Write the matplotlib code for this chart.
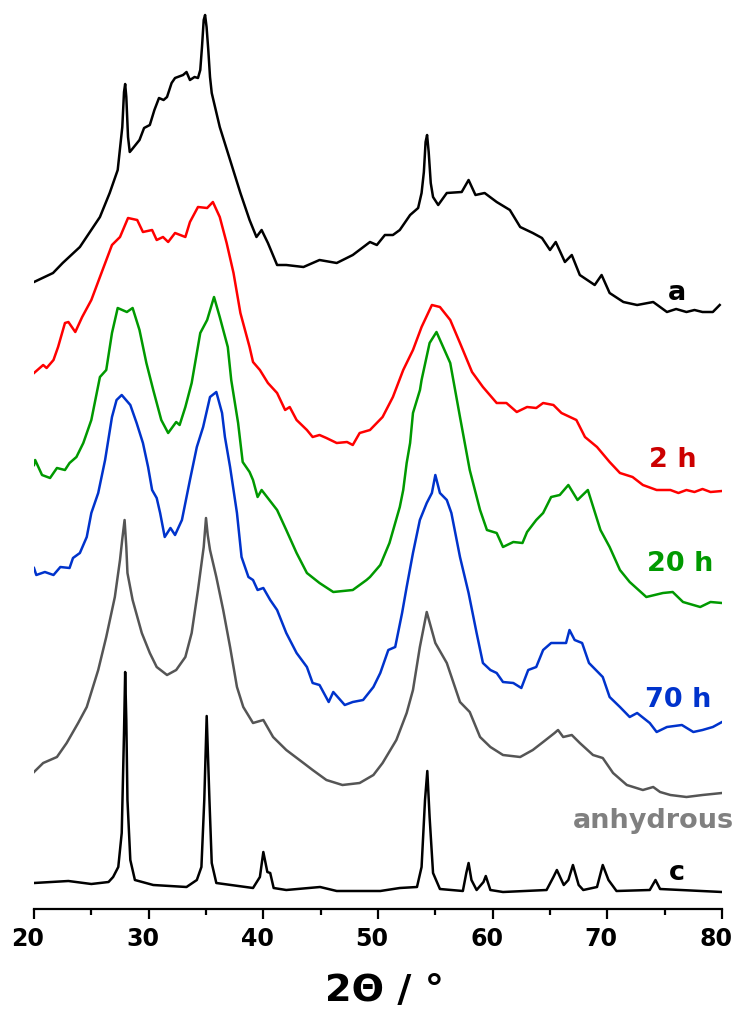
"""
Difractogramas de rayos X apilados (muestra a, 2 h, 20 h, 70 h, anhidra, c).
Cada patrón se dibuja con su propio desplazamiento vertical.
"""

import matplotlib

matplotlib.use("Agg")
import matplotlib.pyplot as plt
from matplotlib.ticker import MultipleLocator
from matplotlib.transforms import ScaledTranslation


# --- patrón a ---
a_x = [20.0, 21.66, 22.5, 24.0, 25.75, 26.6, 27.3, 27.7, 27.85, 27.95, 28.05, 28.2,
       28.35, 28.5, 29.2, 29.6, 30.1, 30.5, 30.9, 31.3, 31.6, 32.0, 32.3, 33.0,
       33.3, 33.6, 34.0, 34.3, 34.5, 34.65, 34.8,
       34.92, 35.05, 35.2, 35.35, 35.5, 36.2, 37.1, 38.0, 38.8, 39.4, 39.85, 40.4,
       41.2, 42.0, 43.5, 44.9, 46.4, 47.8, 49.3, 49.9, 50.6, 51.3, 51.9, 52.8,
       53.5, 53.8, 54.0, 54.15, 54.28, 54.42, 54.6, 54.8, 55.25, 56.0, 57.3, 57.9,
       58.5, 59.3, 60.35, 61.5, 62.4, 63.5, 64.3, 65.0, 65.5, 66.3, 66.9, 67.6,
       68.9, 69.5, 70.2, 71.4, 72.6, 74.0, 75.2, 76.0, 76.9, 77.6, 78.3, 79.2,
       79.8]
a_i = [30, 39, 49, 65, 95, 119, 142, 185, 220, 228, 215, 175,
       160, 162, 172, 184, 187, 202, 214, 212, 215, 229, 234, 237,
       240, 232, 235, 234, 242, 265, 292,
       297, 285, 262, 235, 219, 185, 152, 119, 92, 75, 82, 69,
       47, 47, 45, 52, 49, 57, 70, 67, 77, 77, 82, 97,
       104, 119, 140, 170, 177, 160, 129, 115, 107, 119, 120, 132,
       117, 119, 110, 102, 85, 79, 74, 62, 70, 50, 57, 37,
       27, 37, 19, 10, 7, 10, 0, 3, 0, 2, 0, 0,
       7]

# --- 2 h ---
h2_x = [20.0, 20.8, 21.1, 21.7, 22.1, 22.7, 23.0, 23.6, 24.2, 25.0, 25.75, 26.8,
        27.5, 28.2, 29.0, 29.5, 30.3, 30.7, 31.25, 31.7, 32.3, 33.2, 33.6, 34.3,
        35.1, 35.6, 36.2, 36.8, 37.4, 38.0, 38.8, 39.1, 39.7, 40.4, 41.2, 41.9,
        42.3, 42.9, 43.8, 44.3, 44.9, 45.5, 46.4, 47.3, 47.8, 48.4, 49.3, 50.4,
        51.3, 52.2, 53.05, 53.8, 54.7, 55.4, 56.3, 57.15, 58.2, 59.15, 60.35, 61.2,
        62.1, 63.0, 63.8, 64.4, 65.3, 66.0, 67.3, 68.05, 69.1, 70.2, 71.1, 72.2,
        73.1, 74.3, 75.5, 76.2, 76.9, 77.6, 78.3, 79.0, 80.0]
h2_i = [119, 127, 124, 132, 145, 169, 170, 160, 175, 192, 215, 247,
        255, 274, 272, 260, 262, 252, 255, 250, 259, 255, 270, 285,
        284, 290, 275, 249, 219, 179, 145, 130, 122, 109, 99, 82,
        85, 72, 62, 55, 57, 54, 49, 50, 47, 59, 62, 75,
        95, 122, 142, 165, 187, 185, 172, 149, 120, 105, 89, 89,
        80, 85, 84, 89, 87, 79, 72, 55, 45, 30, 19, 15,
        7, 2, 2, -1, 2, 0, 3, 0, 1]

# --- 20 h ---
h20_x = [20.0, 20.1, 20.7, 21.4, 22.0, 22.7, 23.1, 23.7, 24.3, 25.0, 25.75, 26.3,
         26.8, 27.3, 28.1, 28.6, 29.2, 29.8, 30.4, 31.1, 31.7, 32.4, 32.7, 33.2,
         33.75, 34.5, 35.1, 35.7, 36.2, 36.9, 37.2, 37.8, 38.2, 38.8, 39.1, 39.5,
         39.85, 41.2, 42.0, 42.9, 43.8, 44.9, 46.1, 47.8, 49.0, 49.3, 50.2, 51.0,
         51.9, 52.2, 52.5, 52.8, 53.05, 53.66, 53.8, 54.5, 55.1, 56.3, 57.15, 58.0,
         58.9, 59.5, 60.35, 60.9, 61.8, 62.6, 63.0, 63.8, 64.4, 65.1, 65.85, 66.6,
         67.4, 68.3, 69.4, 70.2, 71.1, 71.95, 73.4, 74.85, 75.7, 76.6, 78.1, 79.0,
         80.0]
h20_i = [142, 147, 132, 129, 139, 137, 144, 150, 164, 187, 230, 237,
         274, 299, 295, 299, 277, 244, 217, 187, 174, 185, 182, 200,
         224, 274, 287, 310, 290, 260, 227, 184, 145, 135, 127, 110,
         117, 97, 77, 54, 34, 24, 15, 17, 27, 30, 42, 64,
         100, 117, 144, 164, 194, 217, 227, 264, 275, 244, 190, 137,
         97, 77, 74, 60, 65, 64, 75, 87, 94, 110, 112, 122,
         107, 117, 77, 60, 37, 25, 10, 14, 15, 5, 0, 5,
         4]

# --- 70 h ---
h70_x = [20.0, 20.2, 20.95, 21.7, 22.3, 23.1, 23.4, 24.0, 24.6, 25.0, 25.6, 26.2,
         26.8, 27.2, 27.65, 28.4, 28.95, 29.5, 29.95, 30.3, 30.7, 31.0, 31.4, 31.9,
         32.3, 32.9, 33.6, 34.2, 34.75, 35.35, 35.9, 36.4, 36.65, 37.1, 37.7, 38.1,
         38.7, 39.1, 39.5, 40.0, 40.6, 41.2, 42.0, 42.9, 43.8, 44.3, 44.9, 45.7,
         46.1, 47.1, 47.8, 48.7, 49.6, 50.2, 50.9, 51.5, 52.1, 52.5, 53.05, 53.65,
         54.25, 54.7, 55.0, 55.4, 56.0, 56.4, 57.15, 57.9, 58.6, 59.15, 59.8, 60.35,
         60.9, 61.8, 62.5, 63.1, 63.8, 64.4, 65.1, 66.0, 66.4, 66.7, 67.15, 67.8,
         68.4, 69.6, 70.2, 71.1, 71.95, 72.6, 73.7, 74.3, 75.2, 76.5, 77.5, 78.3,
         79.2, 80.0]
h70_i = [164, 157, 160, 157, 165, 164, 174, 179, 195, 219, 239, 272,
         315, 332, 337, 327, 309, 289, 265, 242, 234, 219, 195, 204,
         197, 212, 252, 285, 305, 335, 340, 319, 295, 265, 219, 175,
         155, 152, 142, 144, 132, 122, 99, 79, 65, 49, 47, 30,
         40, 27, 30, 32, 45, 59, 82, 85, 119, 145, 179, 212,
         229, 239, 257, 239, 232, 219, 175, 139, 99, 69, 62, 59,
         50, 49, 44, 62, 65, 82, 89, 89, 89, 102, 92, 89,
         69, 55, 35, 25, 15, 19, 9, 0, 5, 7, 0, 2,
         5, 10]

# --- anhidra ---
anh_x = [20.0, 20.8, 22.0, 22.85, 23.85, 24.6, 25.6, 26.3, 27.05, 27.5, 27.7, 27.9,
         28.05, 28.15, 28.6, 29.4, 30.1, 30.7, 31.6, 32.4, 33.2, 33.75, 34.3, 34.8,
         35.0, 35.15, 35.35, 35.9, 36.5, 37.1, 37.7, 38.25, 39.1, 40.0, 40.85, 42.0,
         43.5, 44.3, 45.5, 46.9, 48.4, 49.6, 50.4, 51.6, 52.5, 53.05, 53.65, 54.25,
         55.0, 56.0, 57.15, 58.0, 58.9, 59.8, 60.9, 62.4, 63.5, 64.4, 65.4, 65.7,
         66.15, 66.9, 67.6, 68.75, 69.6, 70.5, 71.7, 73.1, 74.0, 74.6, 75.5, 76.9,
         78.3, 80.0]
anh_i = [25, 34, 40, 54, 74, 90, 127, 160, 200, 237, 258, 277,
         250, 224, 197, 164, 144, 130, 122, 127, 140, 164, 207, 250,
         279, 262, 247, 220, 187, 150, 110, 90, 74, 77, 60, 47,
         34, 27, 17, 12, 14, 22, 34, 57, 84, 107, 150, 185,
         154, 134, 95, 85, 60, 50, 42, 40, 47, 55, 64, 67,
         60, 62, 54, 42, 39, 24, 12, 7, 10, 5, 2, 0,
         2, 4]

# --- patrón c ---
c_x = [20.0, 21.5, 23.0, 25.0, 26.5, 26.9, 27.35, 27.65, 27.85, 27.95, 28.05, 28.15,
       28.4, 28.8, 30.4, 33.3, 34.2, 34.6, 34.85, 35.06, 35.3, 35.5, 35.9, 39.1,
       39.7, 40.0, 40.35, 40.6, 40.9, 42.0, 44.95, 46.4, 50.2, 51.9, 53.4, 53.8,
       54.1, 54.3, 54.5, 54.8, 55.4, 57.4, 57.7, 57.9, 58.15, 58.6, 59.2, 59.4,
       59.8, 60.9, 64.7, 65.3, 65.6, 66.2, 66.6, 67.0, 67.5, 67.9, 69.1, 69.6,
       70.1, 70.8, 73.7, 74.2, 74.6, 80.0]
c_i = [9, 10, 11, 8, 10, 15, 25, 59, 159, 220, 172, 92,
       32, 12, 7, 5, 12, 25, 92, 176, 92, 29, 9, 4,
       15, 40, 20, 19, 4, 2, 5, 1, 1, 4, 5, 25,
       92, 121, 75, 19, 3, 1, 19, 29, 12, 2, 10, 16,
       2, 0, 2, 15, 22, 7, 12, 27, 7, 2, 5, 27,
       12, 1, 2, 12, 3, 0]

# desplazamientos verticales de cada patrón
offsets = [597, 417, 302, 177, 112, 17]
line_colors = ["#000000", "#ff0000", "#009900", "#0033cc", "#555555", "#000000"]
labels = ["a", "2 h", "20 h", "70 h", "anhydrous", "c"]
label_colors = ["#000000", "#cc0000", "#009900", "#0033cc", "#808080", "#000000"]
label_x = [76.07, 75.73, 76.34, 76.16, 74.0, 76.07]
label_y = [609, 442, 338, 202, 81, 29]

series = [(a_x, a_i), (h2_x, h2_i), (h20_x, h20_i), (h70_x, h70_i),
          (anh_x, anh_i), (c_x, c_i)]

plt.rcParams["font.family"] = ["DejaVu Sans"]
plt.rcParams["font.weight"] = "bold"

fig = plt.figure(figsize=(7.36, 10.11), dpi=100)
ax = fig.add_axes([34 / 736, 102 / 1011, 688 / 736, 909 / 1011])

for (xs, ys), off, col in zip(series, offsets, line_colors):
    ax.plot(xs, [v + off for v in ys], color=col, lw=1.8)

for txt, tx, ty, col in zip(labels, label_x, label_y, label_colors):
    ax.text(tx, ty, txt, color=col, fontsize=19.5, fontweight="bold",
            ha="center", va="baseline")

ax.set_xlim(20, 80)
ax.set_ylim(0, 909)
for s in ["left", "right", "top"]:
    ax.spines[s].set_visible(False)
ax.spines["bottom"].set_linewidth(1.6)
ax.set_yticks([])
ax.xaxis.set_major_locator(MultipleLocator(10))
ax.xaxis.set_minor_locator(MultipleLocator(5))
ax.tick_params(axis="x", which="major", length=7, width=1.6, labelsize=17, pad=6)
ax.tick_params(axis="x", which="minor", length=4, width=1.6)

# etiquetas de los ticks ligeramente desplazadas a la izquierda
shift = ScaledTranslation(-6 / 100, 0, fig.dpi_scale_trans)
for lab in ax.get_xticklabels():
    lab.set_fontweight("bold")
    lab.set_transform(lab.get_transform() + shift)

ax.set_xlabel("2Θ / °", fontsize=27.5, fontweight="bold")
ax.xaxis.set_label_coords(0.51, -0.101)
ax.xaxis.label.set_va("baseline")

fig.savefig("out.png", dpi=100)
